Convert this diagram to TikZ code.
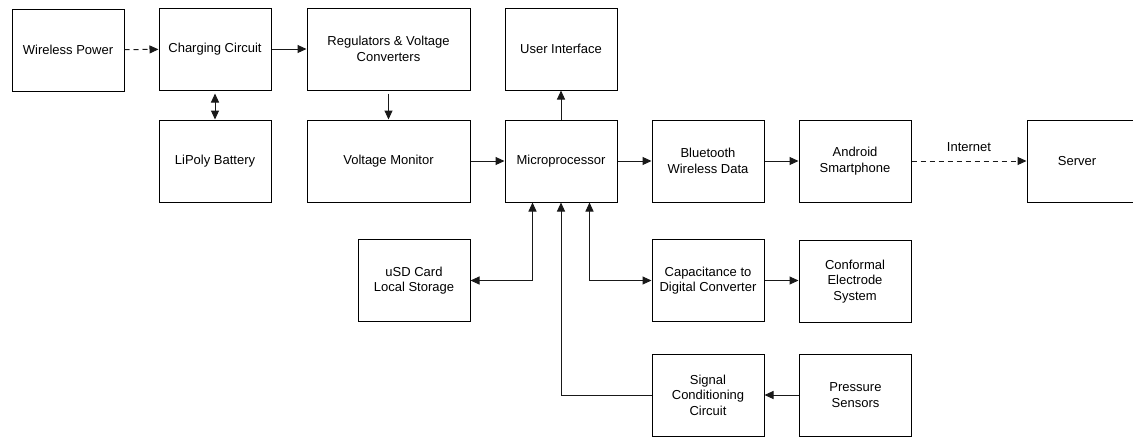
\documentclass[tikz,border=0pt]{standalone}
\usepackage{fontspec}
\setmainfont{Liberation Sans}
\usetikzlibrary{arrows.meta,calc}

\begin{document}
\begin{tikzpicture}[x=1pt,y=-1pt,
  box/.style={draw=black, line width=1pt, minimum width=112pt, minimum height=82pt,
    inner sep=2pt, align=center, font=\fontsize{13}{15.5}\selectfont},
  wide/.style={box, minimum width=163pt},
  link/.style={draw=black!90, line width=1pt},
  tip/.tip={Triangle[length=9pt,width=8pt]},
  arr/.style={link, -tip},
  biarr/.style={link, tip-tip},
  dasharr/.style={arr, dash pattern=on 5pt off 4pt},
  lbl/.style={font=\fontsize{13}{15.5}\selectfont}]

\clip (0,0) rectangle (1133,437);
\useasboundingbox (0,0) rectangle (1133,437);

% power path and top row
\node[box]  (wp)   at (68,50)    {Wireless Power};
\node[box]  (cc)   at (215,49)   {Charging Circuit};
\node[wide] (reg)  at (388.5,49) {Regulators \& Voltage\\Converters};
\node[box]  (ui)   at (561,49)   {User Interface};

% main row
\node[box]  (lipo) at (215,161)   {LiPoly Battery};
\node[wide] (vm)   at (388.5,161) {Voltage Monitor};
\node[box]  (mp)   at (561,161)   {Microprocessor};
\node[box]  (bt)   at (708,161)   {Bluetooth\\Wireless Data};
\node[box]  (andr) at (855,161)   {Android\\Smartphone};
\node[box]  (srv)  at (1083,161)  {Server\hspace{12pt}};

% peripherals
\node[box]  (usd)  at (414,280.5) {uSD Card\\Local Storage};
\node[box]  (cdc)  at (708,280.5) {Capacitance to\\Digital Converter};
\node[box]  (ces)  at (855,281.5) {Conformal\\Electrode\\System};
\node[box]  (scc)  at (708,395)   {Signal\\Conditioning\\Circuit};
\node[box]  (ps)   at (855.5,395) {Pressure\\Sensors};

% connectors
\draw[dasharr] (wp) -- (cc);
\draw[arr] (cc) -- (reg);
\draw[biarr, shorten <=3pt] (cc) -- (lipo);
\draw[arr, shorten <=3pt] (reg) -- (vm);
\draw[arr] (vm) -- (mp);
\draw[arr] (mp) -- (ui);
\draw[arr] (mp) -- (bt);
\draw[arr] (bt) -- (andr);
\draw[dasharr] (andr) -- node[lbl, midway, above=6pt] (inet) {Internet} (srv);

\draw[biarr] (usd.east) -| ([xshift=28pt]mp.south west);
\draw[biarr] (cdc.west) -| ([xshift=-28pt]mp.south east);
\draw[arr] (cdc.east) -- (cdc.east -| ces.west);
\draw[arr] (scc.west) -| (mp.south);
\draw[arr] (ps) -- (scc);
\end{tikzpicture}
\end{document}
